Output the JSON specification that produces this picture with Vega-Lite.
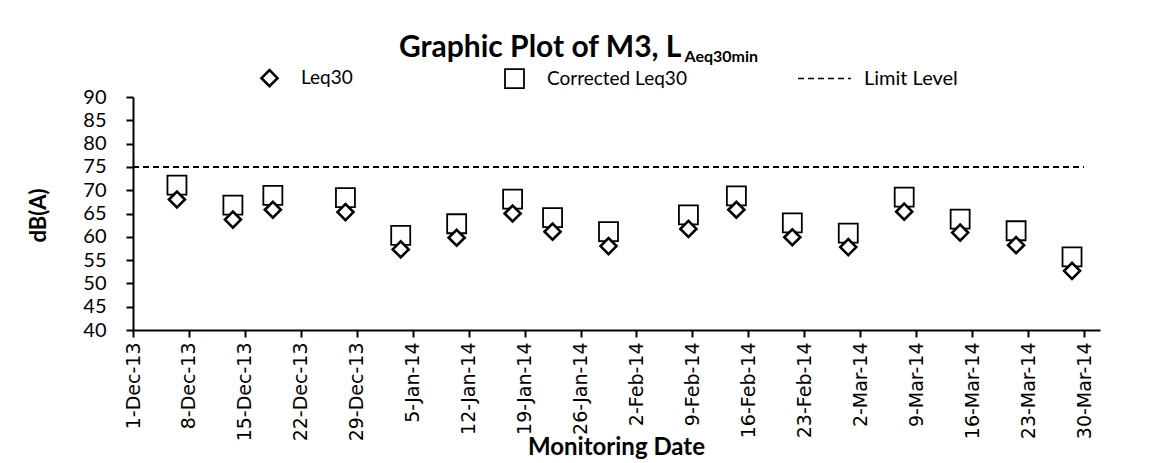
{
  "$schema": "https://vega.github.io/schema/vega-lite/v6.json",
  "width": 967,
  "height": 233,
  "autosize": {"type": "none"},
  "padding": {"left": 133, "top": 97, "right": 53, "bottom": 133},
  "background": "white",
  "title": {
    "text": "Graphic Plot of M3, L",
    "anchor": "start",
    "frame": "group",
    "dx": 266,
    "dy": 45,
    "font": "Lato",
    "fontSize": 30,
    "fontWeight": "bold",
    "color": "black",
    "offset": 30
  },
  "config": {
    "view": {"stroke": null},
    "axis": {
      "domainColor": "black",
      "domainWidth": 2,
      "tickColor": "black",
      "tickWidth": 2,
      "tickSize": 7,
      "labelColor": "black",
      "titleColor": "black",
      "grid": false
    },
    "axisY": {"labelFont": "Lato", "labelFontSize": 20, "labelPadding": 20}
  },
  "datasets": {
    "points": [
      {"date": "2013-12-06T12:00:00Z", "series": "Corrected Leq30", "value": 71.1},
      {"date": "2013-12-13T12:00:00Z", "series": "Corrected Leq30", "value": 66.8},
      {"date": "2013-12-18T12:00:00Z", "series": "Corrected Leq30", "value": 68.9},
      {"date": "2013-12-27T14:00:00Z", "series": "Corrected Leq30", "value": 68.4},
      {"date": "2014-01-03T12:00:00Z", "series": "Corrected Leq30", "value": 60.3},
      {"date": "2014-01-10T12:00:00Z", "series": "Corrected Leq30", "value": 62.8},
      {"date": "2014-01-17T12:00:00Z", "series": "Corrected Leq30", "value": 68.1},
      {"date": "2014-01-22T12:00:00Z", "series": "Corrected Leq30", "value": 64.1},
      {"date": "2014-01-29T12:00:00Z", "series": "Corrected Leq30", "value": 61.1},
      {"date": "2014-02-08T12:00:00Z", "series": "Corrected Leq30", "value": 64.7},
      {"date": "2014-02-14T12:00:00Z", "series": "Corrected Leq30", "value": 68.8},
      {"date": "2014-02-21T12:00:00Z", "series": "Corrected Leq30", "value": 63.0},
      {"date": "2014-02-28T12:00:00Z", "series": "Corrected Leq30", "value": 60.8},
      {"date": "2014-03-07T12:00:00Z", "series": "Corrected Leq30", "value": 68.5},
      {"date": "2014-03-14T12:00:00Z", "series": "Corrected Leq30", "value": 63.8},
      {"date": "2014-03-21T12:00:00Z", "series": "Corrected Leq30", "value": 61.3},
      {"date": "2014-03-28T12:00:00Z", "series": "Corrected Leq30", "value": 55.7},
      {"date": "2013-12-06T12:00:00Z", "series": "Leq30", "value": 68.0},
      {"date": "2013-12-13T12:00:00Z", "series": "Leq30", "value": 63.7},
      {"date": "2013-12-18T12:00:00Z", "series": "Leq30", "value": 65.8},
      {"date": "2013-12-27T14:00:00Z", "series": "Leq30", "value": 65.3},
      {"date": "2014-01-03T12:00:00Z", "series": "Leq30", "value": 57.3},
      {"date": "2014-01-10T12:00:00Z", "series": "Leq30", "value": 59.8},
      {"date": "2014-01-17T12:00:00Z", "series": "Leq30", "value": 65.0},
      {"date": "2014-01-22T12:00:00Z", "series": "Leq30", "value": 61.1},
      {"date": "2014-01-29T12:00:00Z", "series": "Leq30", "value": 58.0},
      {"date": "2014-02-08T12:00:00Z", "series": "Leq30", "value": 61.7},
      {"date": "2014-02-14T12:00:00Z", "series": "Leq30", "value": 65.8},
      {"date": "2014-02-21T12:00:00Z", "series": "Leq30", "value": 59.9},
      {"date": "2014-02-28T12:00:00Z", "series": "Leq30", "value": 57.8},
      {"date": "2014-03-07T12:00:00Z", "series": "Leq30", "value": 65.4},
      {"date": "2014-03-14T12:00:00Z", "series": "Leq30", "value": 60.9},
      {"date": "2014-03-21T12:00:00Z", "series": "Leq30", "value": 58.2},
      {"date": "2014-03-28T12:00:00Z", "series": "Leq30", "value": 52.7}
    ],
    "limit": [
      {"date": "2013-12-01T00:00:00Z", "value": 75},
      {"date": "2014-03-30T00:00:00Z", "value": 75}
    ]
  },
  "layer": [
    {
      "data": {"name": "limit"},
      "mark": {"type": "line", "color": "black", "strokeWidth": 2},
      "encoding": {
        "x": {
          "field": "date",
          "type": "temporal",
          "scale": {"type": "utc", "domain": [{"year": 2013, "month": 12, "date": 1, "utc": true}, {"year": 2014, "month": 4, "date": 1, "utc": true}], "nice": false},
          "axis": {
            "orient": "top",
            "title": "Aeq30min",
            "domain": false,
            "ticks": false,
            "labels": false,
            "titleFont": "Lato",
            "titleFontSize": 16,
            "titleFontWeight": "bold",
            "titleAlign": "left",
            "titleBaseline": "alphabetic",
            "titleAnchor": "start",
            "titleX": 551,
            "titleY": -36
          }
        },
        "y": {
          "field": "value",
          "type": "quantitative",
          "scale": {"domain": [40, 90], "nice": false, "zero": false},
          "axis": {
            "title": "dB(A)",
            "values": [40, 45, 50, 55, 60, 65, 70, 75, 80, 85, 90],
            "titleFont": "Lato",
            "titleFontSize": 22,
            "titleFontWeight": "bold",
            "titleX": -95,
            "titleY": 118,
            "titleAlign": "center",
            "titleBaseline": "middle"
          }
        },
        "strokeDash": {
          "datum": "Limit Level",
          "type": "nominal",
          "scale": {"domain": ["Limit Level"], "range": [[6, 4]]},
          "legend": {
            "orient": "none",
            "legendX": 664,
            "legendY": -46,
            "title": null,
            "padding": 0,
            "symbolType": "stroke",
            "symbolSize": 2809,
            "symbolStrokeColor": "black",
            "symbolStrokeWidth": 1.5,
            "labelFont": "Lato",
            "labelFontSize": 20,
            "labelColor": "black",
            "labelOffset": 12
          }
        }
      }
    },
    {
      "data": {"name": "points"},
      "mark": {"type": "point", "filled": true, "fill": "white", "stroke": "black", "opacity": 1},
      "encoding": {
        "x": {
          "field": "date",
          "type": "temporal",
          "axis": {
            "orient": "bottom",
            "title": "Monitoring Date",
            "values": [
              {"year": 2013, "month": 12, "date": 1, "utc": true},
              {"year": 2013, "month": 12, "date": 8, "utc": true},
              {"year": 2013, "month": 12, "date": 15, "utc": true},
              {"year": 2013, "month": 12, "date": 22, "utc": true},
              {"year": 2013, "month": 12, "date": 29, "utc": true},
              {"year": 2014, "month": 1, "date": 5, "utc": true},
              {"year": 2014, "month": 1, "date": 12, "utc": true},
              {"year": 2014, "month": 1, "date": 19, "utc": true},
              {"year": 2014, "month": 1, "date": 26, "utc": true},
              {"year": 2014, "month": 2, "date": 2, "utc": true},
              {"year": 2014, "month": 2, "date": 9, "utc": true},
              {"year": 2014, "month": 2, "date": 16, "utc": true},
              {"year": 2014, "month": 2, "date": 23, "utc": true},
              {"year": 2014, "month": 3, "date": 2, "utc": true},
              {"year": 2014, "month": 3, "date": 9, "utc": true},
              {"year": 2014, "month": 3, "date": 16, "utc": true},
              {"year": 2014, "month": 3, "date": 23, "utc": true},
              {"year": 2014, "month": 3, "date": 30, "utc": true}
            ],
            "labelExpr": "utcFormat(datum.value, '%-d-%b-%y')",
            "labelFont": "DejaVu Sans",
            "labelFontSize": 19,
            "labelAngle": -90,
            "labelPadding": 5,
            "titleFont": "Lato",
            "titleFontSize": 24,
            "titleFontWeight": "bold",
            "titleX": 483,
            "titleY": 117,
            "titleBaseline": "middle",
            "titleAlign": "center"
          }
        },
        "y": {
          "field": "value",
          "type": "quantitative",
          "axis": {
            "title": "dB(A)",
            "values": [40, 45, 50, 55, 60, 65, 70, 75, 80, 85, 90],
            "titleFont": "Lato",
            "titleFontSize": 22,
            "titleFontWeight": "bold",
            "titleX": -95,
            "titleY": 118,
            "titleAlign": "center",
            "titleBaseline": "middle"
          }
        },
        "shape": {
          "field": "series",
          "type": "nominal",
          "scale": {"domain": ["Leq30", "Corrected Leq30"], "range": ["diamond", "square"]},
          "legend": {
            "orient": "none",
            "direction": "horizontal",
            "legendX": 127,
            "legendY": -29,
            "title": null,
            "padding": 0,
            "symbolFillColor": "white",
            "symbolStrokeColor": "black",
            "labelFont": "Lato",
            "labelFontSize": 19,
            "labelColor": "black",
            "labelOffset": 22,
            "columnPadding": 148
          }
        },
        "size": {
          "field": "series",
          "type": "nominal",
          "scale": {"domain": ["Leq30", "Corrected Leq30"], "range": [256, 361]}
        },
        "strokeWidth": {
          "field": "series",
          "type": "nominal",
          "scale": {"domain": ["Leq30", "Corrected Leq30"], "range": [2.6, 1.8]}
        }
      }
    }
  ],
  "resolve": {"axis": {"x": "independent"}}
}
